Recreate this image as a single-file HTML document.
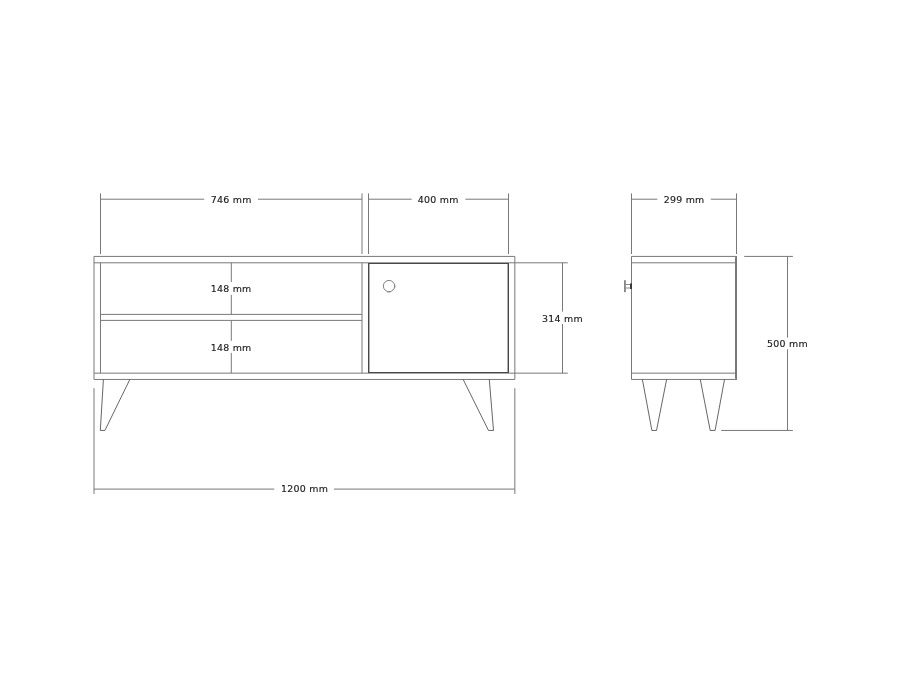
<!DOCTYPE html>
<html>
<head>
<meta charset="utf-8">
<title>TV unit dimensions</title>
<style>
html,body{margin:0;padding:0;background:#fff;}
body{width:904px;height:678px;overflow:hidden;}
svg{display:block;}
text{font-family:"DejaVu Sans","Liberation Sans",sans-serif;font-size:9.1px;letter-spacing:0.25px;fill:#1c1c1c;stroke:#1c1c1c;stroke-width:0.15px;text-anchor:middle;transform-box:fill-box;transform-origin:center;transform:scaleX(1.035);}
svg{will-change:transform;}
.l{stroke:#787878;stroke-width:1;fill:none;}
.g{stroke:#4a4a4a;stroke-width:0.85;fill:none;stroke-linejoin:miter;}
.d{stroke:#787878;stroke-width:1;fill:none;}
.k{stroke:#484848;fill:none;}
</style>
</head>
<body>
<svg width="904" height="678" viewBox="0 0 904 678">
<rect width="904" height="678" fill="#fff"/>
<!-- front view body -->
<g class="l">
<path d="M94 256.42H514.85V379.45H94Z"/>
<path d="M94 262.8H567.8M94 373.15H567.8"/>
<path d="M100.47 262.8V373.15M362 262.8V373.15"/>
<path d="M100.5 314.4H362M100.5 320.4H362"/>
<path d="M231.3 262.8V282M231.3 294.8V314.4M231.3 320.4V340.8M231.3 352.9V373.15"/>
</g>
<!-- legs front -->
<g class="g">
<path d="M103.4 379.5L100.3 430.45H104.9L129.8 379.5"/>
<path d="M463.2 379.5L488.5 430.45H493.5L489.3 379.5"/>
</g>
<!-- door -->
<path class="k" d="M368 263.5H509M368 372.5H509" stroke-width="1"/>
<path class="k" d="M368.72 263V373M508.28 263V373" stroke-width="1.45" stroke="#4e4e4e"/>
<path d="M394.9 284.6A6 6 0 0 1 394.9 288.2M390.6 292.2A6 6 0 0 1 387.2 292.2" fill="none" stroke="#c4c4c4" stroke-width="1"/>
<circle cx="389" cy="286.05" r="5.65" fill="none" stroke="#5c5c5c" stroke-width="0.75"/>
<!-- side view -->
<g class="l">
<path d="M736.5 256.42H631.5V379.45H736.5"/>
<path d="M631.5 262.8H735.5M631.5 373.15H735.5"/>
<path d="M736.5 256V379.95M735.5 257.2V378.8" stroke="#787878"/>
</g>
<g class="g">
<path d="M642.4 379.5L651.9 430.45H656.5L666.6 379.5"/>
<path d="M700.3 379.5L710.2 430.45H715.1L724.5 379.5"/>
</g>
<!-- handle -->
<rect x="624.1" y="280.2" width="1.7" height="12" fill="#7c7c7c"/>
<path d="M625.8 284.5H630.2M625.8 288H630.2" stroke="#606060" stroke-width="0.75" fill="none"/>
<rect x="630.1" y="283.4" width="1.7" height="5.6" fill="#2a2a2a"/>
<!-- dimensions -->
<g class="d">
<path d="M100.5 193.4V254M362 193.4V254M368.5 193.4V254M508.5 193.4V254M631.5 193.4V254M736.5 193.4V254"/>
<path d="M100.5 199.2H204.2M258 199.2H362"/>
<path d="M368.5 199.2H411.7M465.4 199.2H508.5"/>
<path d="M631.5 199.2H657.3M710.8 199.2H736.5"/>
<path d="M562.5 262.8V311.6M562.5 324V373.15"/>
<path d="M744.2 256.42H792.9M721.2 430.45H792.9"/>
<path d="M787.5 256.5V337.6M787.5 349.2V430.45"/>
<path d="M94 388.2V494M514.85 388.2V494"/>
<path d="M94 489.1H274.3M334 489.1H514.85"/>
</g>
<g>
<text x="231.3" y="202.6">746 mm</text>
<text x="438.3" y="202.6">400 mm</text>
<text x="684.1" y="202.6">299 mm</text>
<text x="231.1" y="292.3">148 mm</text>
<text x="231.1" y="350.9">148 mm</text>
<text x="562.5" y="321.7">314 mm</text>
<text x="787.5" y="347">500 mm</text>
<text x="304.6" y="492.5">1200 mm</text>
</g>
</svg>
</body>
</html>
